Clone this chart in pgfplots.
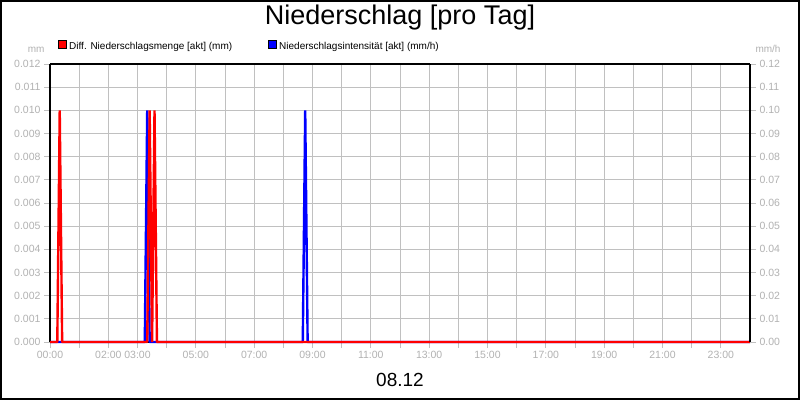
\documentclass[border=0pt]{standalone}
\usepackage{pgfplots}
\usepackage{pgfplotstable}
\pgfplotsset{compat=1.18}
\usepackage{fontspec}
\setmainfont{Liberation Sans}
\definecolor{lbl}{RGB}{178,178,178}
\definecolor{grd}{RGB}{192,192,192}
\definecolor{rr}{RGB}{255,0,0}
\definecolor{bb}{RGB}{0,0,255}

% Diff. Niederschlagsmenge (mm), 5-min-Werte
\pgfplotstableread{
t v
0 0
0.25 0
0.3333 0.01
0.4167 0
3.3333 0
3.4167 0.01
3.5 0
3.5833 0.01
3.6667 0
24 0
}\menge
% Niederschlagsintensitaet (mm/h)
\pgfplotstableread{
t v
0 0
3.25 0
3.3333 0.1
3.4167 0
8.6667 0
8.75 0.1
8.8333 0
24 0
}\intens

\begin{document}
\begin{tikzpicture}[x=1pt,y=1pt]
  \fill[white] (0,0) rectangle (800,400);
  \pgfplotsset{
    base/.style={
      scale only axis, width=700pt, height=278pt,
      at={(50pt,58pt)}, anchor=south west,
      xmin=0, xmax=24,
      tick label style={font=\fontsize{10.5}{12}\selectfont, text=lbl},
      /pgf/number format/assume math mode=true,
      tick style={grd, line width=1pt},
      major tick length=6pt,
    },
  }
  \begin{axis}[
      base,
      ymin=0, ymax=0.012,
      ytick={0,0.001,...,0.0125},
      yticklabel style={/pgf/number format/.cd, fixed, fixed zerofill, precision=3},
      scaled y ticks=false,
      xtick={0,1,...,23},
      xticklabels={00:00,,02:00,03:00,,05:00,,07:00,,09:00,,11:00,,13:00,,15:00,,17:00,,19:00,,21:00,,23:00},
      grid=major, grid style={grd, line width=0.8pt},
      axis x line*=bottom, axis y line*=left,
      axis line style={black, line width=1.2pt, -},
      tick align=outside,
      xtick pos=bottom, ytick pos=left,
      clip=false,
    ]
    \draw[black, line width=1.2pt] (rel axis cs:0,1) -- (rel axis cs:1,1);
    \addplot[bb, line width=2.4pt, line join=bevel] table[x=t, y expr=\thisrow{v}/10] {\intens};
    \addplot[rr, line width=2.4pt, line join=bevel] table[x=t, y=v] {\menge};
  \end{axis}
  \begin{axis}[
      base,
      ymin=0, ymax=0.12,
      ytick={0,0.01,...,0.125},
      yticklabel style={/pgf/number format/.cd, fixed, fixed zerofill, precision=2},
      scaled y ticks=false,
      axis x line=none,
      axis y line*=right,
      axis line style={black, line width=1.2pt, -},
      tick align=outside, ytick pos=right,
    ]
  \end{axis}
  % Titel, Einheiten, Legende, Datum
  \node at (400,382) {\fontsize{27}{30}\selectfont Niederschlag [pro Tag]};
  \node[text=lbl, anchor=base east] at (48,348) {\fontsize{10}{12}\selectfont mm};
  \node[text=lbl, anchor=base west] at (752,348) {\fontsize{10}{12}\selectfont mm/h};
  \filldraw[fill=rr, draw=black, line width=0.6pt] (58,352) rectangle (66,360);
  \node[anchor=base west, inner sep=0pt] at (69,351) {\fontsize{10}{12}\selectfont Diff. Niederschlagsmenge [akt] (mm)};
  \filldraw[fill=bb, draw=black, line width=0.6pt] (268,352) rectangle (276,360);
  \node[anchor=base west, inner sep=0pt] at (279,351) {\fontsize{10}{12}\selectfont Niederschlagsintensität [akt] (mm/h)};
  \node at (400,20) {\fontsize{19}{22}\selectfont 08.12};
  \draw[black, line width=2pt] (1,1) rectangle (799,399);
\end{tikzpicture}
\end{document}
